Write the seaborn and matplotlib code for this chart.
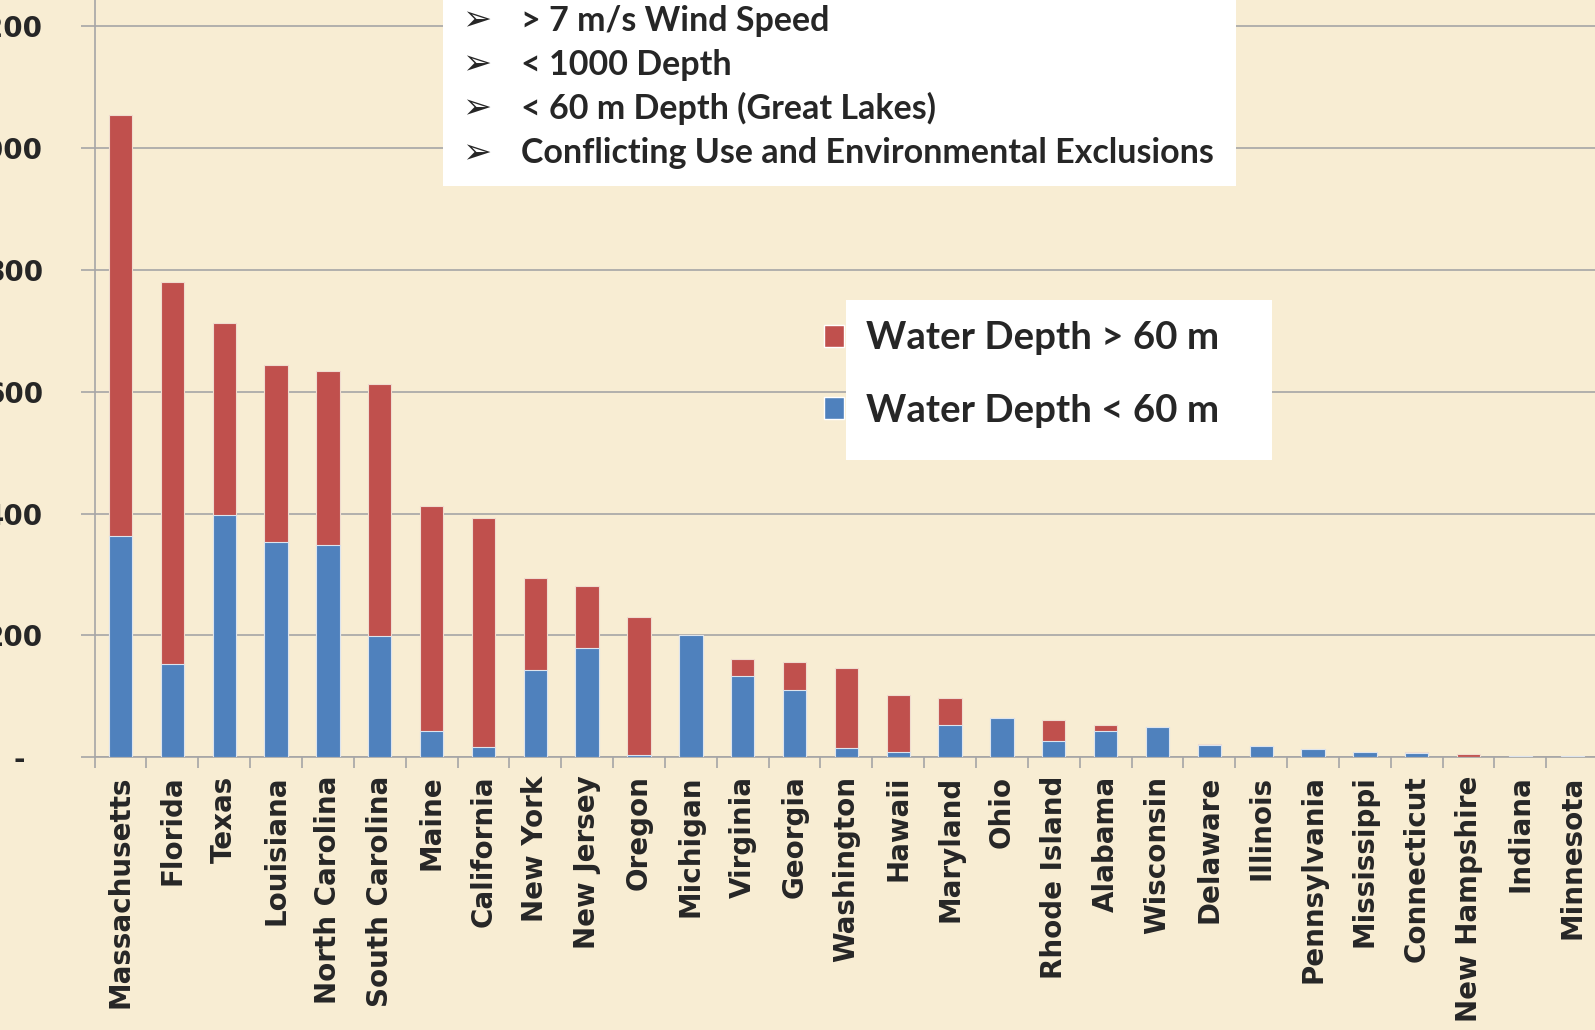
import numpy as np
import matplotlib
matplotlib.use('Agg')
import matplotlib.pyplot as plt
from matplotlib.patches import Rectangle, Patch
from matplotlib.transforms import ScaledTranslation
import seaborn as sns

states = ['Massachusetts', 'Florida', 'Texas', 'Louisiana', 'North Carolina',
          'South Carolina', 'Maine', 'California', 'New York', 'New Jersey',
          'Oregon', 'Michigan', 'Virginia', 'Georgia', 'Washington', 'Hawaii',
          'Maryland', 'Ohio', 'Rhode Island', 'Alabama', 'Wisconsin', 'Delaware',
          'Illinois', 'Pennsylvania', 'Mississippi', 'Connecticut',
          'New Hampshire', 'Indiana', 'Minnesota']
shallow = [363, 153, 398, 354, 349, 199, 43, 17, 144, 180, 4, 200, 133, 111,
           15, 9, 54, 64, 27, 43, 50, 20, 18, 14, 9, 7, 0, 3, 3]
deep = [690, 627, 314, 289, 285, 414, 369, 375, 151, 101, 227, 0, 29, 46,
        132, 93, 43, 0, 35, 11, 0, 2, 0, 0, 0, 2, 5, 0, 0]
yticks = [0, 200, 400, 600, 800, 1000, 1200]
ytick_labels = ['-', '200', '400', '600', '800', '1,000', '1,200']
box_lines = ['> 7 m/s Wind Speed', '< 1000 Depth', '< 60 m Depth (Great Lakes)',
             'Conflicting Use and Environmental Exclusions']
legend_labels = ['Water Depth > 60 m', 'Water Depth < 60 m']

total = [s + d for s, d in zip(shallow, deep)]

RED = '#C0504D'
BLUE = '#4F81BD'
BG = '#F8EDD3'
GRID = '#A6A6A6'

sns.set_style('white')
plt.rcParams['font.family'] = ['DejaVu Sans']

fig = plt.figure(figsize=(15.95, 10.30), dpi=100, facecolor=BG)
ax = fig.add_axes([0.0593, 0.2646, 0.9427, 0.7354])
ax.set_facecolor(BG)

sns.barplot(x=states, y=total, color=RED, width=0.45, ax=ax,
            edgecolor='#F0DCD0', linewidth=0.8, saturation=1, zorder=3)
sns.barplot(x=states, y=shallow, color=BLUE, width=0.45, ax=ax,
            edgecolor='#DDE4EE', linewidth=0.8, saturation=1, zorder=3)

ax.set_xlim(-0.5, len(states) - 0.5)
ax.set_ylim(0, 1242)
ax.set_yticks(yticks)
ax.set_yticklabels(ytick_labels, fontsize=20, fontweight='bold')
ax.yaxis.grid(True, color=GRID, linewidth=1.2, zorder=0)
ax.set_axisbelow(True)
ax.tick_params(axis='y', length=10, width=1.2, color=GRID, pad=27, left=True)
# zero label in accounting format sits further left
ax.get_yticklabels()[0].set_transform(
    ax.get_yticklabels()[0].get_transform() + ScaledTranslation(-0.18, 0, fig.dpi_scale_trans))

ax.set_xticks(range(len(states)))
ax.set_xticklabels(states, rotation=90, fontsize=20, fontweight='bold', va='top')
ax.set_xticks(np.arange(-0.5, len(states), 1), minor=True)
ax.tick_params(axis='x', which='major', length=0, pad=13)
ax.tick_params(axis='x', which='minor', length=8, width=1.2, color=GRID, bottom=True)
ax.set_xlabel('')
ax.set_ylabel('')

for side in ['top', 'right']:
    ax.spines[side].set_visible(False)
for side in ['left', 'bottom']:
    ax.spines[side].set_color(GRID)
    ax.spines[side].set_linewidth(1.2)

# criteria box
fig.patches.append(Rectangle((0.278, 0.8193), 0.497, 0.19, transform=fig.transFigure,
                             facecolor='white', edgecolor='none', zorder=5))
for i, line in enumerate(box_lines):
    y = 0.980 - i * 0.0428
    fig.text(0.299, y, '\u27a2', fontsize=25, ha='center', va='center',
             family=['DejaVu Sans'], zorder=6)
    fig.text(0.3265, y, line, fontsize=24.5, fontweight='bold', ha='left', va='center',
             family=['Lato', 'DejaVu Sans'], zorder=6)

# legend
fig.patches.append(Rectangle((0.5306, 0.5538), 0.2672, 0.155, transform=fig.transFigure,
                             facecolor='white', edgecolor='none', zorder=5))
handles = [Patch(facecolor=RED), Patch(facecolor=BLUE)]
leg = fig.legend(handles, legend_labels, loc='upper left', bbox_to_anchor=(0.5166, 0.688),
                 frameon=False, handlelength=0.52, handleheight=0.52, handletextpad=0.58,
                 labelspacing=1.0, borderpad=0, borderaxespad=0,
                 prop={'family': 'Lato', 'weight': 'bold', 'size': 27.6})
leg.set_zorder(6)

fig.savefig('out.png', dpi=100, facecolor=BG)
